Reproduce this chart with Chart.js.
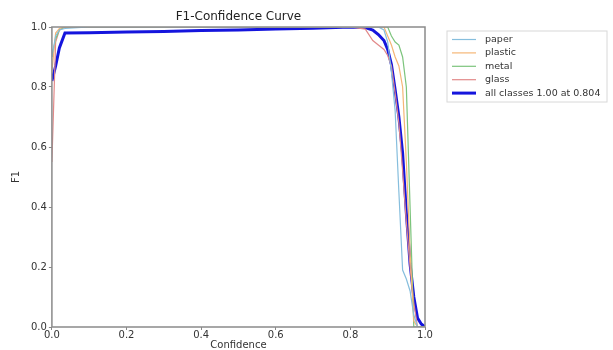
<!DOCTYPE html>
<html>
<head>
<meta charset="utf-8">
<script src="https://cdn.jsdelivr.net/npm/chart.js@4.4.0/dist/chart.umd.min.js"></script>
<style>
  html, body { margin: 0; padding: 0; background: #fff; }
  #wrap { width: 613px; height: 350px; }
</style>
</head>
<body>
<div id="wrap"><canvas id="f1Chart" width="613" height="350"></canvas></div>
<script>
// confidence grid (x) shared by all curves
const conf = [0, 0.01, 0.02, 0.035, 0.1, 0.2, 0.3, 0.4, 0.5, 0.6, 0.7, 0.8, 0.84, 0.86, 0.875, 0.89, 0.9, 0.91, 0.92, 0.93, 0.94, 0.95, 0.96, 0.97, 0.98, 0.99, 1.0];

// F1 values
const paperF1   = [0.90, 0.97, 0.99, 0.995, 1, 1, 1, 1, 1, 1, 1, 1, 1, 1, 1, 0.99, 0.95, 0.85, 0.72, 0.45, 0.19, 0.16, 0.12, 0.04, 0, 0, 0];
const plasticF1 = [0.85, 0.98, 0.995, 1, 1, 1, 1, 1, 1, 1, 1, 1, 1, 1, 1, 1, 0.97, 0.94, 0.90, 0.87, 0.80, 0.55, 0.25, 0.02, 0, 0, 0];
const metalF1   = [0.90, 0.96, 0.99, 1, 1, 1, 1, 1, 1, 1, 1, 1, 1, 1, 1, 1, 1, 0.97, 0.95, 0.94, 0.90, 0.80, 0.40, 0, 0, 0, 0];
const glassF1   = [0.55, 0.95, 0.99, 1, 1, 1, 1, 1, 1, 1, 1, 1, 0.993, 0.955, 0.94, 0.925, 0.905, 0.87, 0.78, 0.68, 0.52, 0.35, 0.20, 0.08, 0, 0, 0];
const allF1     = [0.82, 0.87, 0.93, 0.98, 0.981, 0.983, 0.985, 0.988, 0.99, 0.993, 0.996, 1.0, 0.998, 0.99, 0.975, 0.955, 0.925, 0.875, 0.79, 0.70, 0.58, 0.38, 0.21, 0.10, 0.03, 0.01, 0];

const classNames = ['paper', 'plastic', 'metal', 'glass', 'all classes 1.00 at 0.804'];
const tickVals = [0, 0.2, 0.4, 0.6, 0.8, 1.0];
const chartTitle = 'F1-Confidence Curve';

function pts(ys) {
  return conf.map((c, i) => ({ x: c, y: ys[i] }));
}

// matplotlib-like frame, title over the axes and a legend box outside on the right
const framePlugin = {
  id: 'framePlugin',
  afterDraw(chart) {
    const ctx = chart.ctx;
    const a = chart.chartArea;
    ctx.save();
    ctx.strokeStyle = '#8a8a8a';
    ctx.lineWidth = 1.5;
    ctx.strokeRect(a.left, a.top, a.right - a.left, a.bottom - a.top);

    // title centred on the axes
    ctx.fillStyle = '#222';
    ctx.font = '12px "DejaVu Sans"';
    ctx.textAlign = 'center';
    ctx.textBaseline = 'bottom';
    ctx.fillText(chartTitle, (a.left + a.right) / 2, a.top - 4);

    // legend
    const lx = a.right + 22, ly = a.top + 4;
    const rowH = 13.4;
    const ds = chart.data.datasets;
    ctx.strokeStyle = '#d8d8d8';
    ctx.lineWidth = 1;
    ctx.strokeRect(lx, ly, 160, rowH * ds.length + 4);
    ctx.font = '9.5px "DejaVu Sans"';
    ctx.textAlign = 'left';
    ctx.textBaseline = 'middle';
    ds.forEach((d, i) => {
      const y = ly + 8.5 + i * rowH;
      ctx.strokeStyle = d.borderColor;
      ctx.lineWidth = d.borderWidth;
      ctx.beginPath();
      ctx.moveTo(lx + 5, y);
      ctx.lineTo(lx + 29, y);
      ctx.stroke();
      ctx.fillStyle = '#333';
      ctx.fillText(d.label, lx + 38, y);
    });
    ctx.restore();
  }
};

const font = { family: 'DejaVu Sans', size: 10, lineHeight: 1.0 };

new Chart(document.getElementById('f1Chart').getContext('2d'), {
  type: 'line',
  data: {
    datasets: [
      { label: classNames[0], data: pts(paperF1), borderColor: '#86bedd', borderWidth: 1.2 },
      { label: classNames[1], data: pts(plasticF1), borderColor: '#f5b676', borderWidth: 1.2 },
      { label: classNames[2], data: pts(metalF1), borderColor: '#7cc47c', borderWidth: 1.2 },
      { label: classNames[3], data: pts(glassF1), borderColor: '#e28a8a', borderWidth: 1.2 },
      { label: classNames[4], data: pts(allF1), borderColor: '#1515dd', borderWidth: 3 }
    ].map(d => Object.assign(d, { pointRadius: 0, tension: 0, fill: false }))
  },
  options: {
    responsive: false,
    animation: false,
    layout: { padding: { left: 11, right: 188, top: 27, bottom: 0 } },
    plugins: {
      title: { display: false },
      legend: { display: false },
      tooltip: { enabled: false }
    },
    scales: {
      x: {
        type: 'linear',
        min: 0,
        max: 1,
        afterBuildTicks: axis => { axis.ticks = tickVals.map(v => ({ value: v })); },
        ticks: { callback: v => v.toFixed(1), color: '#333', font: font, padding: 0, maxRotation: 0 },
        grid: { drawOnChartArea: false, drawTicks: true, tickLength: 3, color: '#888' },
        border: { display: false },
        title: { display: true, text: 'Confidence', color: '#333', font: font, padding: { top: 0, bottom: 0 } }
      },
      y: {
        min: 0,
        max: 1,
        afterBuildTicks: axis => { axis.ticks = tickVals.map(v => ({ value: v })); },
        ticks: { callback: v => v.toFixed(1), color: '#333', font: font, padding: 2 },
        grid: { drawOnChartArea: false, drawTicks: true, tickLength: 3, color: '#888' },
        border: { display: false },
        title: { display: true, text: 'F1', color: '#333', font: font, padding: { top: 0, bottom: 8 } }
      }
    }
  },
  plugins: [framePlugin]
});
</script>
</body>
</html>
